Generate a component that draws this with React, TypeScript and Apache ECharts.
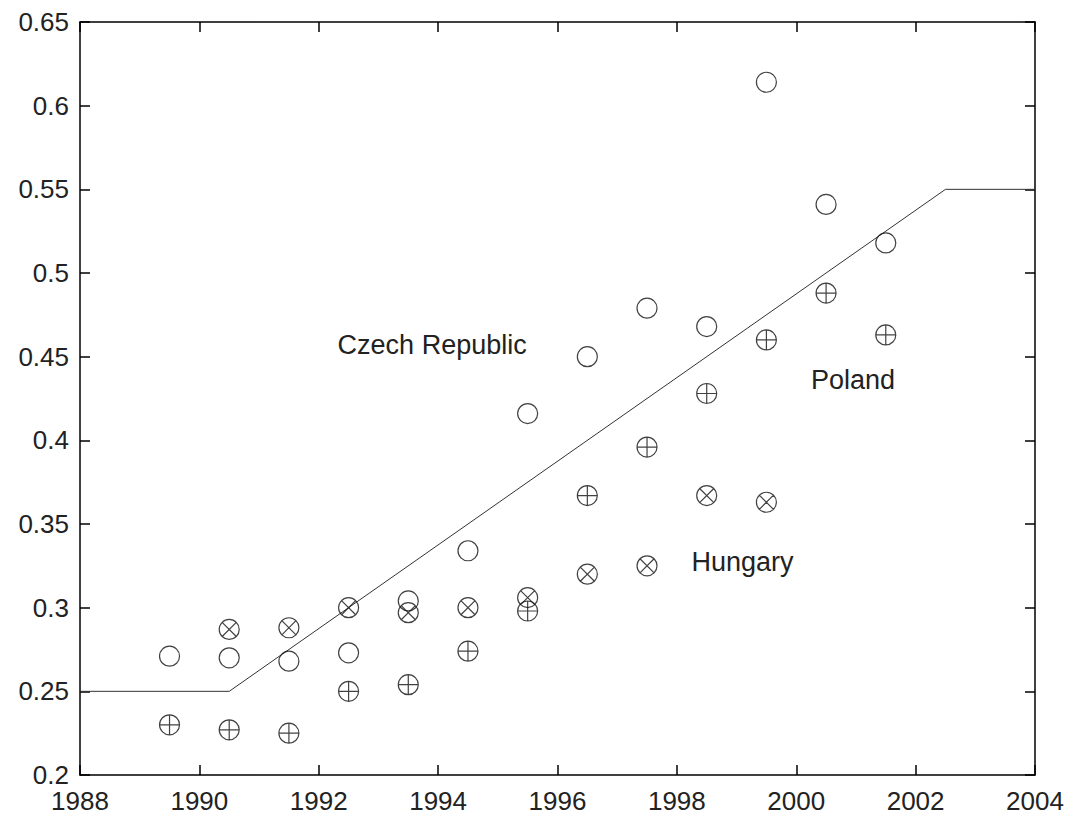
import React, { useEffect, useRef } from "react";
import * as echarts from "echarts";

const xTicks = [1988, 1990, 1992, 1994, 1996, 1998, 2000, 2002, 2004];
const yTicks = [0.2, 0.25, 0.3, 0.35, 0.4, 0.45, 0.5, 0.55, 0.6, 0.65];

const czechYears = [1989.5, 1990.5, 1991.5, 1992.5, 1993.5, 1994.5, 1995.5, 1996.5, 1997.5, 1998.5, 1999.5, 2000.5, 2001.5];
const czechValues = [0.271, 0.270, 0.268, 0.273, 0.304, 0.334, 0.416, 0.450, 0.479, 0.468, 0.614, 0.541, 0.518];

const polandYears = [1989.5, 1990.5, 1991.5, 1992.5, 1993.5, 1994.5, 1995.5, 1996.5, 1997.5, 1998.5, 1999.5, 2000.5, 2001.5];
const polandValues = [0.230, 0.227, 0.225, 0.250, 0.254, 0.274, 0.298, 0.367, 0.396, 0.428, 0.460, 0.488, 0.463];

const hungaryYears = [1990.5, 1991.5, 1992.5, 1993.5, 1994.5, 1995.5, 1996.5, 1997.5, 1998.5, 1999.5];
const hungaryValues = [0.287, 0.288, 0.300, 0.297, 0.300, 0.306, 0.320, 0.325, 0.367, 0.363];

const refYears = [1988, 1990.5, 2002.5, 2004];
const refValues = [0.25, 0.25, 0.55, 0.55];

const labels = [
  { text: "Czech Republic", year: 1993.9, value: 0.457 },
  { text: "Poland", year: 2000.95, value: 0.436 },
  { text: "Hungary", year: 1999.1, value: 0.327 },
];

const CIRCLE = "M0,10 A10,10 0 1,1 20,10 A10,10 0 1,1 0,10 Z";
const PLUS_CIRCLE = CIRCLE + " M10,0 L10,20 M0,10 L20,10";
const X_CIRCLE = CIRCLE + " M2.93,2.93 L17.07,17.07 M17.07,2.93 L2.93,17.07";

const FONT = "'Liberation Sans', Arial, sans-serif";

export default function App() {
  const ref = useRef<HTMLDivElement>(null);
  useEffect(() => {
    document.body.style.margin = "0";
    const chart = echarts.init(ref.current!, null, { renderer: "svg" });
    const pair = (xs: number[], ys: number[]) => xs.map((x, i) => [x, ys[i]]);
    const markerStyle = { color: "rgba(0,0,0,0)", borderColor: "#111", borderWidth: 1.2 };
    const axisCommon = {
      axisLine: { show: true, lineStyle: { color: "#000", width: 1.5 } },
      axisTick: { show: true, inside: true, length: 10, lineStyle: { color: "#000", width: 1.5 } },
      splitLine: { show: false },
    };
    const option: any = {
      animation: false,
      backgroundColor: "#fff",
      grid: { left: 80, right: 36, top: 22, bottom: 45, containLabel: false },
      xAxis: [
        {
          type: "value", min: 1988, max: 2004, interval: 2, position: "bottom",
          ...axisCommon,
          axisLabel: { show: true, fontSize: 26, lineHeight: 26, color: "#222", fontFamily: FONT, margin: 13,
            formatter: (v: number) => (xTicks.includes(v) ? String(v) : "") },
        },
        {
          type: "value", min: 1988, max: 2004, interval: 2, position: "top",
          ...axisCommon, axisLabel: { show: false },
        },
      ],
      yAxis: [
        {
          type: "value", min: 0.2, max: 0.65, interval: 0.05, position: "left",
          ...axisCommon,
          axisLabel: { show: true, fontSize: 26, lineHeight: 26, color: "#222", fontFamily: FONT, margin: 11,
            formatter: (v: number) => {
              const t = yTicks.find((y) => Math.abs(y - v) < 1e-6);
              return t === undefined ? "" : String(parseFloat(t.toFixed(2)));
            } },
        },
        {
          type: "value", min: 0.2, max: 0.65, interval: 0.05, position: "right",
          ...axisCommon, axisLabel: { show: false },
        },
      ],
      series: [
        {
          type: "line", data: pair(refYears, refValues), symbol: "none",
          lineStyle: { color: "#333", width: 1 }, z: 1,
        },
        {
          name: "Czech Republic", type: "scatter", data: pair(czechYears, czechValues),
          symbol: "path://" + CIRCLE, symbolSize: 20, itemStyle: markerStyle, z: 2,
        },
        {
          name: "Poland", type: "scatter", data: pair(polandYears, polandValues),
          symbol: "path://" + PLUS_CIRCLE, symbolSize: 20, itemStyle: markerStyle, z: 2,
        },
        {
          name: "Hungary", type: "scatter", data: pair(hungaryYears, hungaryValues),
          symbol: "path://" + X_CIRCLE, symbolSize: 20, itemStyle: markerStyle, z: 2,
        },
      ],
    };
    chart.setOption(option);
    const graphics = labels.map((l) => {
      const [px, py] = chart.convertToPixel({ gridIndex: 0 }, [l.year, l.value]);
      return {
        type: "text", x: px, y: py,
        style: { text: l.text, fontSize: 27, fontFamily: FONT, fill: "#222", align: "center", verticalAlign: "middle" },
      };
    });
    chart.setOption({ graphic: graphics });
    return () => chart.dispose();
  }, []);
  return <div ref={ref} style={{ position: "absolute", left: 0, top: 0, width: 1071, height: 820 }} />;
}
